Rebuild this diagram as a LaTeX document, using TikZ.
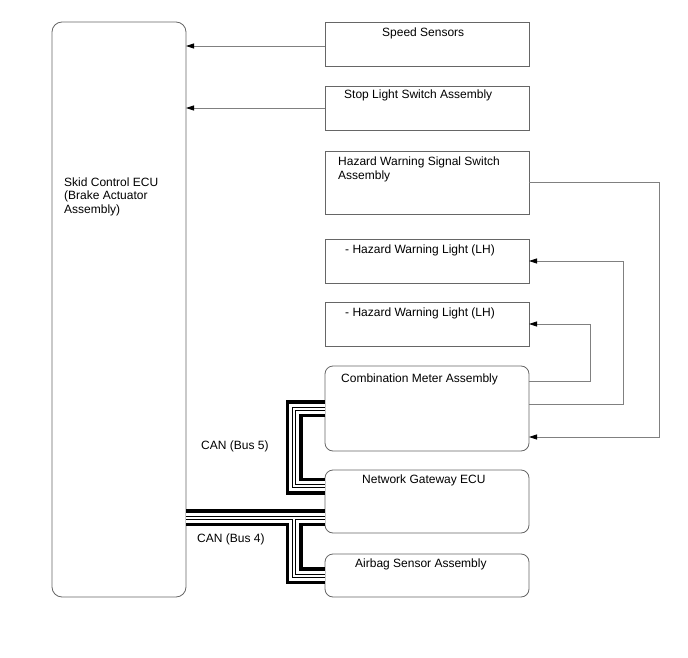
\documentclass[tikz,border=0pt]{standalone}
\usepackage{fontspec}
\setmainfont{Liberation Sans}
\usetikzlibrary{arrows.meta}

\begin{document}
\begin{tikzpicture}[x=1pt,y=-1pt,
    box/.style={draw=black!60,line width=0.8pt,inner sep=0pt,outer sep=0pt,minimum width=204pt},
    rbox/.style={box,rounded corners=8pt},
    lbl/.style={anchor=base west,inner sep=0pt,align=left,font=\fontsize{12}{13.5}\selectfont},
    wire/.style={draw=black!50,line width=0.8pt},
    sig/.style={wire,-{Triangle[length=8pt,width=5pt,color=black]}},
    canbus/.style={draw=black,line width=17pt,
        postaction={draw=white,line width=10pt},
        postaction={draw=black,line width=4pt},
        postaction={draw=white,line width=2pt}}]
    \useasboundingbox (0,0) rectangle (688,658);

    % ECU
    \node[box,rounded corners=10pt,minimum width=134pt,minimum height=575pt] (ecu) at (119,309.5) {};
    \node[lbl] (ecu-t) at (64,213) {Skid Control ECU\\(Brake Actuator\\Assembly)};

    % Boxes on the right
    \node[box,minimum height=44pt] (speed) at (427,44) {};
    \node[box,minimum height=44pt] (stop) at (427,108) {};
    \node[box,minimum height=63pt] (hazsw) at (427,182.5) {};
    \node[box,minimum height=44pt] (hwl1) at (427,261) {};
    \node[box,minimum height=44pt] (hwl2) at (427,324) {};
    \node[rbox,minimum height=85pt] (meter) at (427,408.5) {};
    \node[rbox,minimum height=63pt] (gw) at (427,501.5) {};
    \node[rbox,minimum height=43pt] (airbag) at (427,575.5) {};

    \node[lbl] (speed-t) at (382,37) {Speed Sensors};
    \node[lbl] (stop-t) at (344,99) {Stop Light Switch Assembly};
    \node[lbl] (hazsw-t) at (338,179) {Hazard Warning Signal Switch\\Assembly};
    \node[lbl] (hwl1-t) at (345,253) {- Hazard Warning Light (LH)};
    \node[lbl] (hwl2-t) at (345,316) {- Hazard Warning Light (LH)};
    \node[lbl] (meter-t) at (341,382) {Combination Meter Assembly};
    \node[lbl] (gw-t) at (362,483) {Network Gateway ECU};
    \node[lbl] (airbag-t) at (355,567) {Airbag Sensor Assembly};

    % Signal lines
    \coordinate (rise1) at (590,0);
    \coordinate (rise2) at (623,0);
    \coordinate (rise3) at (659,0);
    \draw[sig] ([yshift=-2pt]speed.west) -- ([yshift=-2pt]speed.west -| ecu.east);
    \draw[sig] (stop.west) -- (stop.west -| ecu.east);
    \draw[sig] (hazsw.east) -- (hazsw.east -| rise3) |- ([yshift=-28.5pt]meter.east);
    \draw[sig] ([yshift=4.5pt]meter.east) -- ([yshift=4.5pt]meter.east -| rise2) |- (hwl1.east);
    \draw[sig] ([yshift=27.5pt]meter.east) -- ([yshift=27.5pt]meter.east -| rise1) |- (hwl2.east);

    % CAN buses
    \coordinate (b4) at (294,517.5);
    \path[canbus] (ecu.east |- b4) -- (gw.west |- b4) (b4) -- (b4 |- airbag.west) -- (airbag.west);
    \path[canbus] (meter.west) -- (meter.west -| b4) -- ([yshift=15.5pt]gw.west -| b4) -- ([yshift=15.5pt]gw.west);
    \node[lbl] (bus5-t) at (201,449) {CAN (Bus 5)};
    \node[lbl] (bus4-t) at (197,542) {CAN (Bus 4)};
\end{tikzpicture}
\end{document}
